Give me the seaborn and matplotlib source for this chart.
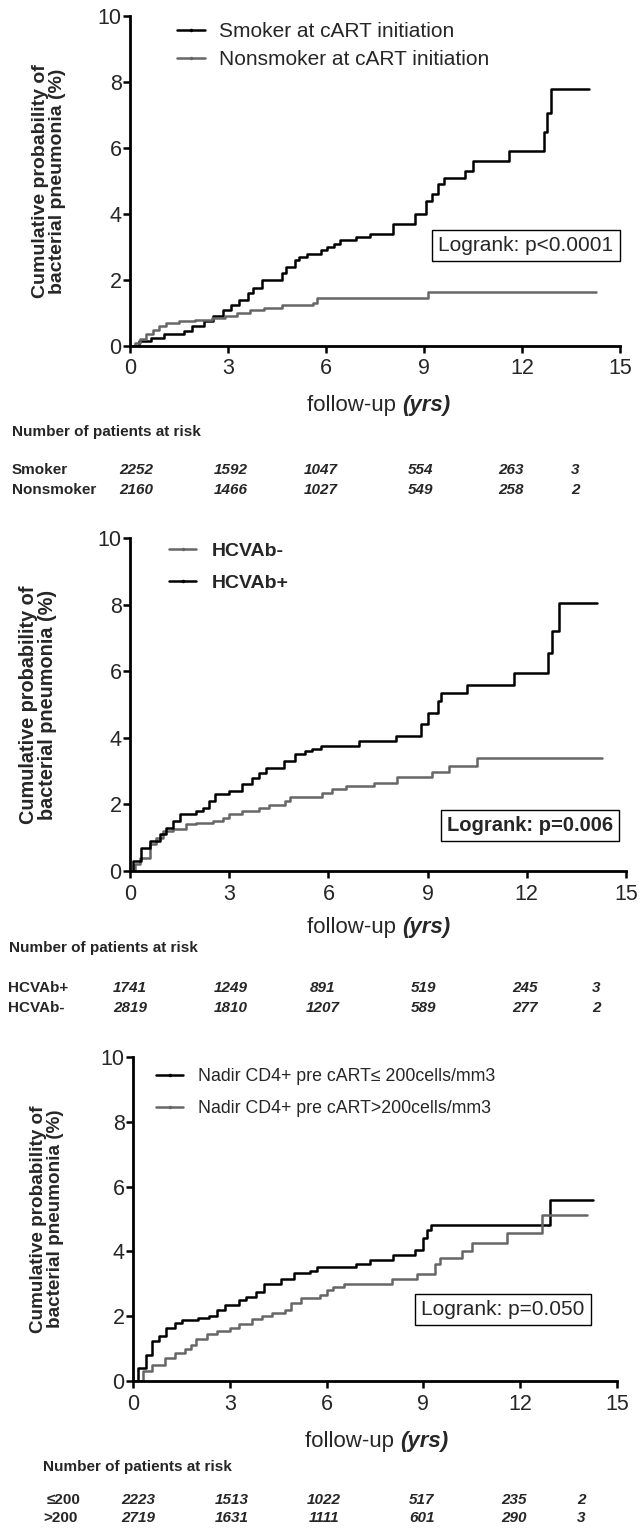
import matplotlib
matplotlib.use("Agg")
import matplotlib.pyplot as plt
from matplotlib.lines import Line2D
import seaborn as sns
import pandas as pd

# ---- data (cumulative %, step curves) ----
smoker_t = [0, 0.28, 0.65, 1.03, 1.65, 1.9, 2.28, 2.53, 2.84, 3.1, 3.35, 3.6, 3.78, 4.03, 4.66, 4.79, 5.04,
            5.16, 5.41, 5.85, 6.04, 6.23, 6.42, 6.92, 7.36, 8.05, 8.73, 9.05, 9.25, 9.42, 9.61, 10.24,
            10.49, 11.6, 12.68, 12.75, 12.9, 14.06]
smoker_v = [0, 0.15, 0.25, 0.35, 0.45, 0.6, 0.75, 0.9, 1.1, 1.25, 1.4, 1.6, 1.75, 2.0, 2.2, 2.4, 2.6,
            2.7, 2.8, 2.9, 3.0, 3.1, 3.2, 3.3, 3.4, 3.7, 4.0, 4.4, 4.6, 4.9, 5.1, 5.3,
            5.6, 5.9, 6.5, 7.05, 7.8, 7.8]
nonsmoker_t = [0, 0.15, 0.3, 0.5, 0.7, 0.9, 1.1, 1.5, 2.0, 2.5, 2.9, 3.28, 3.66, 4.1, 4.66, 5.6, 5.73, 9.11, 14.25]
nonsmoker_v = [0, 0.1, 0.2, 0.35, 0.5, 0.6, 0.7, 0.75, 0.8, 0.85, 0.9, 1.0, 1.1, 1.15, 1.25, 1.3, 1.45, 1.65, 1.65]

hcvpos_t = [0, 0.1, 0.33, 0.6, 0.9, 1.1, 1.3, 1.51, 2.0, 2.2, 2.4, 2.56, 3.0, 3.4, 3.7, 3.9, 4.11, 4.67,
            5.0, 5.3, 5.5, 5.78, 6.92, 8.04, 8.8, 9.02, 9.3, 9.41, 10.2, 11.6, 12.65, 12.77, 12.96, 14.13]
hcvpos_v = [0, 0.3, 0.7, 0.9, 1.1, 1.3, 1.5, 1.7, 1.8, 1.9, 2.1, 2.3, 2.4, 2.6, 2.8, 2.95, 3.1, 3.3,
            3.5, 3.6, 3.65, 3.75, 3.9, 4.05, 4.4, 4.75, 5.1, 5.35, 5.6, 5.95, 6.55, 7.2, 8.05, 8.05]
hcvneg_t = [0, 0.15, 0.3, 0.6, 0.8, 1.0, 1.3, 1.7, 2.0, 2.5, 2.8, 3.0, 3.4, 3.9, 4.2, 4.7, 4.85, 5.8,
            6.1, 6.52, 7.39, 8.07, 9.12, 9.64, 10.48, 14.26]
hcvneg_v = [0, 0.2, 0.4, 0.8, 1.0, 1.2, 1.25, 1.4, 1.45, 1.5, 1.6, 1.7, 1.8, 1.9, 1.98, 2.1, 2.23, 2.35,
            2.45, 2.56, 2.65, 2.81, 2.96, 3.16, 3.39, 3.39]

low_t = [0, 0.15, 0.4, 0.6, 0.8, 1.01, 1.3, 1.52, 2.0, 2.34, 2.6, 2.85, 3.3, 3.5, 3.8, 4.06, 4.6, 5.0,
         5.5, 5.7, 6.91, 7.35, 8.07, 8.75, 9.0, 9.1, 9.25, 12.93, 14.26]
low_v = [0, 0.4, 0.8, 1.22, 1.4, 1.65, 1.8, 1.88, 1.95, 2.0, 2.2, 2.36, 2.5, 2.6, 2.75, 3.0, 3.15, 3.32,
         3.4, 3.51, 3.6, 3.74, 3.9, 4.05, 4.4, 4.65, 4.81, 5.6, 5.6]
high_t = [0, 0.3, 0.6, 1.0, 1.3, 1.6, 1.8, 1.96, 2.3, 2.6, 3.0, 3.3, 3.7, 3.99, 4.3, 4.7, 4.9, 5.2,
          5.8, 6.0, 6.2, 6.53, 8.02, 8.81, 9.35, 9.5, 10.2, 10.52, 11.6, 12.68, 14.07]
high_v = [0, 0.3, 0.5, 0.7, 0.85, 1.0, 1.1, 1.3, 1.45, 1.54, 1.65, 1.75, 1.9, 2.0, 2.1, 2.2, 2.4, 2.55,
          2.65, 2.8, 2.9, 3.0, 3.14, 3.3, 3.62, 3.8, 4.01, 4.26, 4.57, 5.11, 5.11]

# risk tables
risk1_labels = ["Smoker", "Nonsmoker"]
risk1 = [[2252, 1592, 1047, 554, 263, 3], [2160, 1466, 1027, 549, 258, 2]]
risk2_labels = ["HCVAb+", "HCVAb-"]
risk2 = [[1741, 1249, 891, 519, 245, 3], [2819, 1810, 1207, 589, 277, 2]]
risk3_labels = ["\u2264200", ">200"]
risk3 = [[2223, 1513, 1022, 517, 235, 2], [2719, 1631, 1111, 601, 290, 3]]

BLACK = "#000000"
GRAY = "#666666"

sns.set_style("ticks")
plt.rcParams["font.family"] = ["Liberation Sans", "DejaVu Sans"]

fig = plt.figure(figsize=(6.41, 15.38), dpi=100)
W, H = 641, 1538


def fx(px):
    return px / W


def fy(py):
    return 1 - py / H


def km_panel(left, top, right, bottom, curves, colors, legend_kw, logrank, logrank_xy,
             logrank_size, logrank_bold, ylab_x, ylab_size):
    ax = fig.add_axes([fx(left), fy(bottom), (right - left) / W, (bottom - top) / H])
    df = pd.concat([pd.DataFrame({"t": t, "pct": v, "group": name}) for name, t, v in curves],
                   ignore_index=True)
    pal = dict(zip([c[0] for c in curves], colors))
    sns.lineplot(data=df, x="t", y="pct", hue="group", palette=pal, estimator=None,
                 drawstyle="steps-post", lw=1.8, legend=False, ax=ax)
    ax.set_xlim(0, 15)
    ax.set_ylim(0, 10)
    ax.set_xticks([0, 3, 6, 9, 12, 15])
    ax.set_yticks([0, 2, 4, 6, 8, 10])
    ax.tick_params(length=5, width=1.8, labelsize=15.5, color="black")
    ax.tick_params(axis="x", pad=4)
    ax.tick_params(axis="y", pad=1)
    for s in ["top", "right"]:
        ax.spines[s].set_visible(False)
    for s in ["left", "bottom"]:
        ax.spines[s].set_linewidth(2.0)
        ax.spines[s].set_color("black")
    ax.set_xlabel("")
    ax.set_ylabel("Cumulative probability of\nbacterial pneumonia (%)", fontsize=ylab_size,
                  fontweight="bold", va="center", linespacing=0.97)
    ax.yaxis.set_label_coords(ylab_x, 0.5)
    handles = [Line2D([0], [0], color=c, lw=1.8, marker=".", markersize=3) for c in colors]
    ax.legend(handles, [c[0] for c in curves], loc="upper left", frameon=False,
              borderpad=0, borderaxespad=0, **legend_kw)
    ax.text(logrank_xy[0], logrank_xy[1], logrank, ha="center", va="center", fontsize=logrank_size,
            fontweight="bold" if logrank_bold else "normal",
            bbox=dict(boxstyle="square,pad=0.3", fc="white", ec="black", lw=1.0))
    return ax


def xlabel(ax, x_px, y_px):
    t1 = fig.text(fx(x_px), fy(y_px), "follow-up ", fontsize=16, va="center", ha="left")
    ax.annotate("(yrs)", xy=(1, 0), xycoords=t1, va="bottom", ha="left",
                fontsize=16, fontweight="bold", style="italic", annotation_clip=False)


def risk_table(title_xy, label_xs, row_y, labels, rows, col_x):
    fig.text(fx(title_xy[0]), fy(title_xy[1]), "Number of patients at risk", fontsize=11,
             fontweight="bold", va="center")
    for lab, lx, vals, y in zip(labels, label_xs, rows, row_y):
        fig.text(fx(lx), fy(y), lab, fontsize=11, fontweight="bold", va="center")
        for v, x in zip(vals, col_x):
            fig.text(fx(x), fy(y), str(v), fontsize=11, fontweight="bold", style="italic",
                     ha="center", va="center")


# ---- panel 1: smoking ----
ax1 = km_panel(130, 16, 620, 346,
               [("Smoker at cART initiation", smoker_t, smoker_v),
                ("Nonsmoker at cART initiation", nonsmoker_t, nonsmoker_v)],
               [BLACK, GRAY],
               dict(bbox_to_anchor=(0.096, 0.982), fontsize=15, handlelength=1.35,
                    handletextpad=0.67, labelspacing=0.43),
               "Logrank: p<0.0001", (12.12, 3.05), 15, False, -0.165, 14)
xlabel(ax1, 307, 405)
risk_table((12, 432), [12, 12], [470, 490], risk1_labels, risk1, [136, 231, 321, 421, 511, 575])

# ---- panel 2: HCV ----
ax2 = km_panel(130, 538, 626, 871,
               [("HCVAb-", hcvneg_t, hcvneg_v), ("HCVAb+", hcvpos_t, hcvpos_v)],
               [GRAY, BLACK],
               dict(bbox_to_anchor=(0.079, 0.988), prop=dict(size=14, weight="bold"), handlelength=1.4,
                    handletextpad=0.77, labelspacing=0.75),
               "Logrank: p=0.006", (12.1, 1.38), 14.5, True, -0.185, 14.3)
xlabel(ax2, 307, 927)
risk_table((9, 948), [8, 8], [988, 1008], risk2_labels, risk2, [130, 231, 323, 424, 525, 596])

# ---- panel 3: nadir CD4 ----
ax3 = km_panel(133, 1057, 617, 1381,
               [("Nadir CD4+ pre cART\u2264 200cells/mm3", low_t, low_v),
                ("Nadir CD4+ pre cART>200cells/mm3", high_t, high_v)],
               [BLACK, GRAY],
               dict(bbox_to_anchor=(0.047, 0.966), fontsize=12.8, handlelength=1.55,
                    handletextpad=0.8, labelspacing=0.84),
               "Logrank: p=0.050", (11.47, 2.2), 15, False, -0.178, 13.6)
xlabel(ax3, 305, 1442)
risk_table((43, 1467), [47, 43], [1500, 1518], risk3_labels, risk3, [138, 232, 324, 422, 514, 581])

fig.savefig("out.png", dpi=100)
